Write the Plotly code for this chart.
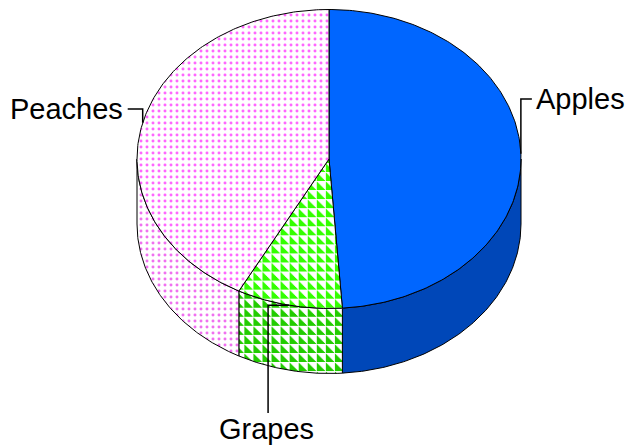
import numpy as np
import plotly.graph_objects as go

categories = ["Apples", "Grapes", "Peaches"]
values = [44, 8, 38]
top_colors = ["#0066ff", "#33ff00", "#ff66ff"]
side_colors = ["#0047b8", "#22cc00", "#f070f0"]

W, H = 628, 448
CX, CY, RX, RY, DEPTH = 329, 159, 192, 149.5, 65
TILE = 6.4

total = sum(values)
edges = np.concatenate([[0], np.cumsum(values)]) / total * 2 * np.pi


def px(t):
    return CX + RX * np.sin(t)


def py(t):
    return CY - RY * np.cos(t)


fig = go.Figure()


def add_region(xs, ys, i, side):
    base = dict(x=xs, y=ys, mode="lines", fill="toself", hoverinfo="skip", showlegend=False)
    edge = dict(color="black", width=1)
    if i == 0:
        fig.add_trace(go.Scatter(**base, line=edge, fillcolor=side_colors[0] if side else top_colors[0]))
    elif i == 1:
        col = side_colors[1] if side else top_colors[1]
        fig.add_trace(go.Scatter(**base, line=edge, fillcolor="white",
                                 fillpattern=dict(shape="/", size=TILE, solidity=0.3, fgcolor="white",
                                                  bgcolor=col, fillmode="replace")))
    else:
        col = side_colors[2] if side else top_colors[2]
        fig.add_trace(go.Scatter(**base, line=edge, fillcolor="white",
                                 fillpattern=dict(shape=".", size=6.0, solidity=0.19, fgcolor=col,
                                                  bgcolor="white", fillmode="replace")))


# walls
for i in range(len(values)):
    a = max(edges[i], np.pi / 2)
    b = min(edges[i + 1], 3 * np.pi / 2)
    if b <= a:
        continue
    t = np.linspace(a, b, 120)
    add_region(np.concatenate([px(t), px(t[::-1]), [px(a)]]),
               np.concatenate([py(t), py(t[::-1]) + DEPTH, [py(a)]]), i, True)

# top slices
for i in range(len(values)):
    t = np.linspace(edges[i], edges[i + 1], 200)
    add_region(np.concatenate([[CX], px(t), [CX]]),
               np.concatenate([[CY], py(t), [CY]]), i, False)

# leaders and labels
mids = (edges[:-1] + edges[1:]) / 2
labels = [(533.5, 99, "left"), (266.5, 429, "center"), (125, 109, "right")]
for i, m in enumerate(mids):
    ax, ay = px(m), py(m)
    if i == 0:
        lx, ly = [ax, ax, ax + 11], [ay, 99, 99]
    elif i == 1:
        lx, ly = [ax, ax - 21, ax - 21], [ay, ay, 413]
    else:
        lx, ly = [ax, ax, ax - 15], [ay, 109, 109]
    fig.add_trace(go.Scatter(x=lx, y=ly, mode="lines", line=dict(color="black", width=1.5),
                             hoverinfo="skip", showlegend=False))
    tx, ty, anchor = labels[i]
    fig.add_annotation(x=tx, y=ty, xref="x", yref="y", text=categories[i], showarrow=False,
                       xanchor=anchor, yanchor="middle",
                       font=dict(family="Liberation Sans, Arial, sans-serif", size=29, color="black"))

fig.update_layout(
    width=W, height=H, margin=dict(l=0, r=0, t=0, b=0),
    paper_bgcolor="white", plot_bgcolor="white", showlegend=False,
    xaxis=dict(range=[0, W], visible=False, fixedrange=True),
    yaxis=dict(range=[H, 0], visible=False, fixedrange=True),
)

# page fit, and the reference's triangle tile in place of the grape slice's stripes
page_script = """
document.body.style.margin = '0';
document.documentElement.style.overflow = 'hidden';
document.querySelectorAll('pattern path').forEach(function (p) {
  var s = parseFloat(p.parentNode.getAttribute('width'));
  p.setAttribute('d', 'M0,0H' + s + 'V' + s + 'Z');
  p.setAttribute('fill', 'white');
  p.setAttribute('stroke-width', '0.7px');
});
"""
fig.write_html("out.html", config=dict(displayModeBar=False),
               default_width=f"{W}px", default_height=f"{H}px",
               post_script=page_script)
